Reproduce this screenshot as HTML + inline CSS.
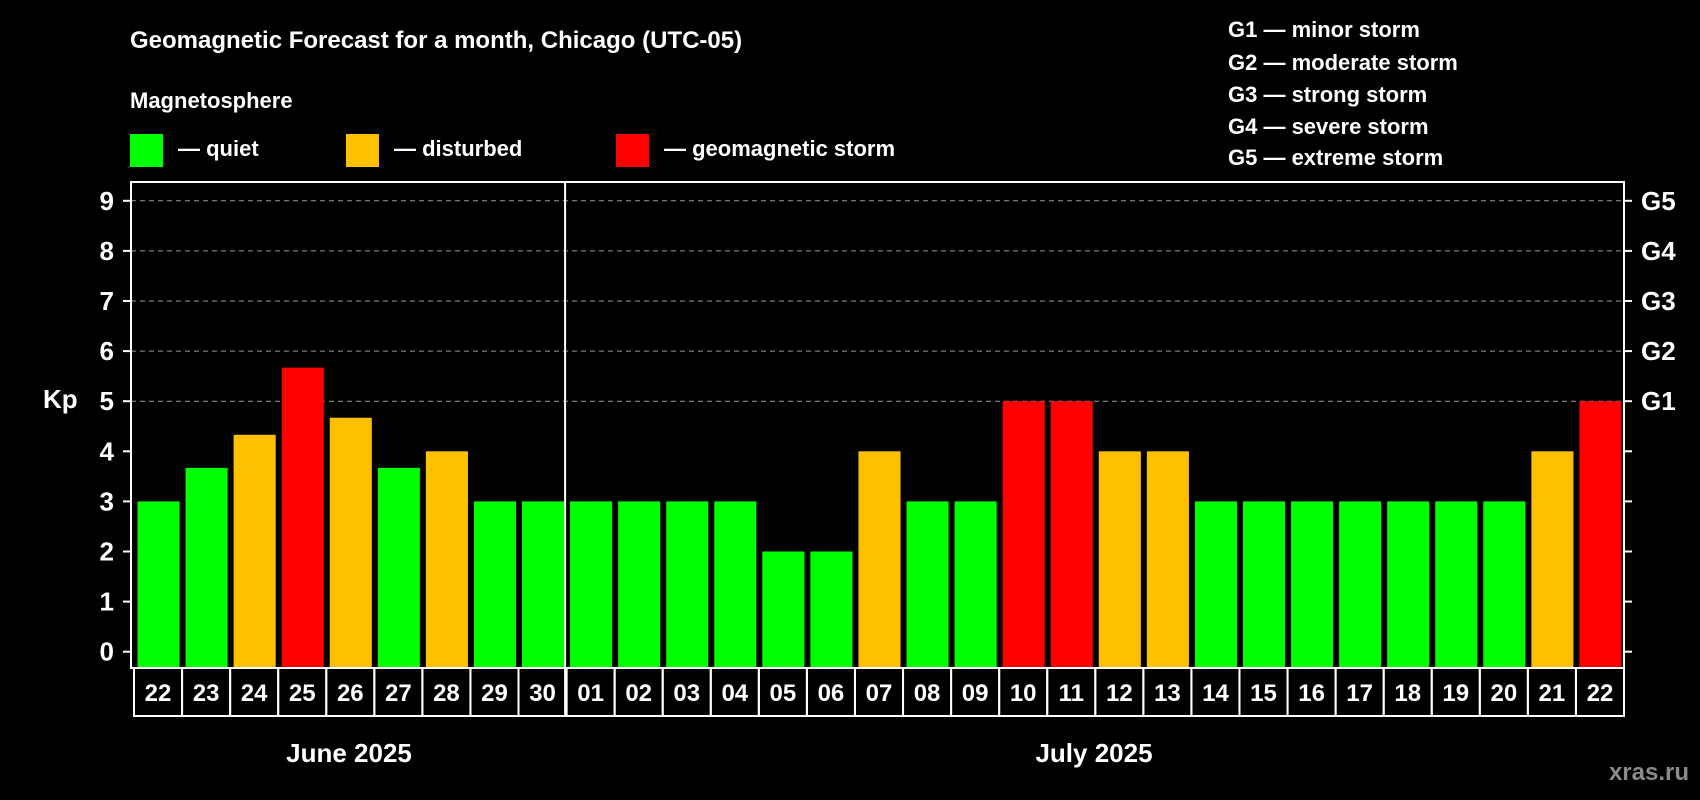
<!DOCTYPE html>
<html><head><meta charset="utf-8"><style>
body{margin:0;background:#000;}
svg{display:block;font-family:"Liberation Sans",Arial,sans-serif;font-weight:bold;}
</style></head><body>
<svg id="chart" width="1700" height="800" viewBox="0 0 1700 800" xmlns="http://www.w3.org/2000/svg">
<rect width="1700" height="800" fill="#000"/>
<text x="130" y="48" fill="#fff" font-size="24">Geomagnetic Forecast for a month, Chicago (UTC-05)</text>
<text x="130" y="108" fill="#fff" font-size="22">Magnetosphere</text>
<g><rect x="130" y="134" width="33" height="33" fill="#00ff00"/><text x="178" y="156" fill="#fff" font-size="22">— quiet</text></g>
<g><rect x="346" y="134" width="33" height="33" fill="#ffc000"/><text x="394" y="156" fill="#fff" font-size="22">— disturbed</text></g>
<g><rect x="616" y="134" width="33" height="33" fill="#ff0000"/><text x="664" y="156" fill="#fff" font-size="22">— geomagnetic storm</text></g>
<g fill="#fff" font-size="22">
<text x="1228" y="37">G1 — minor storm</text>
<text x="1228" y="70">G2 — moderate storm</text>
<text x="1228" y="102">G3 — strong storm</text>
<text x="1228" y="134">G4 — severe storm</text>
<text x="1228" y="165">G5 — extreme storm</text>
</g>
<text x="43" y="408" fill="#fff" font-size="26">Kp</text>
<text x="349" y="762" fill="#fff" font-size="26" text-anchor="middle">June 2025</text>
<text x="1094" y="762" fill="#fff" font-size="26" text-anchor="middle">July 2025</text>
<text x="1689" y="780" fill="#8a8a8a" font-size="24" text-anchor="end">xras.ru</text>
<g id="plot"></g>
</svg>
<script>
const categories=["22","23","24","25","26","27","28","29","30","01","02","03","04","05","06","07","08","09","10","11","12","13","14","15","16","17","18","19","20","21","22"];
const kpValues=[3,3.67,4.33,5.67,4.67,3.67,4,3,3,3,3,3,3,2,2,4,3,3,5,5,4,4,3,3,3,3,3,3,3,4,5];
const yTicks=[0,1,2,3,4,5,6,7,8,9];
const gLabels=["G1","G2","G3","G4","G5"];
const NS="http://www.w3.org/2000/svg";
const L=131,R=1624,T=182,B=668,Y0=651.7,UNIT=50.1,STEP=(R-L-3)/categories.length;
function y(v){return Y0-v*UNIT;}
function x(i){return L+3+i*STEP;}
function mk(tag,attrs,parent){const e=document.createElementNS(NS,tag);for(const k in attrs)e.setAttribute(k,attrs[k]);parent.appendChild(e);return e;}
const g=document.getElementById('plot');
yTicks.forEach(v=>{
  if(v>=5){const gl=mk('line',{x1:L,x2:R,y1:y(v),y2:y(v),stroke:'#999','stroke-dasharray':'5,4','stroke-width':1},g);
  
  }
  const t1=mk('line',{x1:L-8,x2:L,y1:y(v),y2:y(v),stroke:'#fff','stroke-width':2},g);
  
  
  const t2=mk('line',{x1:R,x2:R+8,y1:y(v),y2:y(v),stroke:'#fff','stroke-width':2},g);
  
  
  const lb=mk('text',{x:114,y:y(v)+9,fill:'#fff','font-size':26,'text-anchor':'end'},g);
  lb.textContent=v;
  
  
});
gLabels.forEach((s,i)=>{
  const t=mk('text',{x:1641,y:y(5+i)+9,fill:'#fff','font-size':26},g);
  t.textContent=s;
  
  
});
kpValues.forEach((v,i)=>{
  const c=v>=5?'#ff0000':(v>=4?'#ffc000':'#00ff00');
  const r=mk('rect',{x:x(i)+3.5,y:y(v),width:STEP-6,height:B-y(v)-1,fill:c},g);
  
  
  const cell=mk('rect',{x:x(i),y:B,width:STEP,height:48,fill:'none',stroke:'#fff','stroke-width':2},g);
  
  
  const t=mk('text',{x:x(i)+STEP/2,y:B+33,fill:'#fff','font-size':24,'text-anchor':'middle'},g);
  t.textContent=categories[i];
  
  
});
const frame=mk('rect',{x:L,y:T,width:R-L,height:B-T,fill:'none',stroke:'#fff','stroke-width':2},g);


const dx=x(9)-1.5;
const dv=mk('line',{x1:dx,x2:dx,y1:T,y2:B+48,stroke:'#fff','stroke-width':2},g);


</script>
</body></html>
